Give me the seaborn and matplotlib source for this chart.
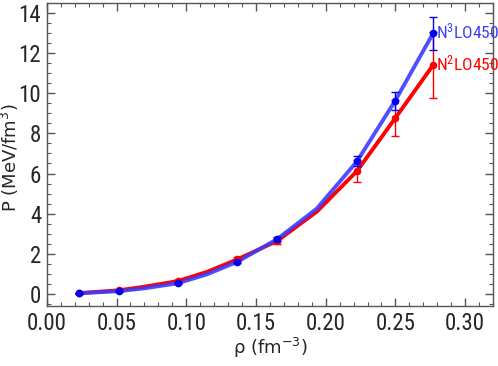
import matplotlib
matplotlib.use("Agg")
import matplotlib.pyplot as plt
from matplotlib.ticker import MultipleLocator
import seaborn as sns

# data points (markers + error bars)
rho = [0.0229, 0.0516, 0.0938, 0.1366, 0.1652, 0.2224, 0.2498, 0.2770]
p_n3lo = [0.03, 0.14, 0.53, 1.60, 2.73, 6.60, 9.62, 12.98]
err_n3lo = [0.02, 0.03, 0.05, 0.08, 0.10, 0.25, 0.45, 0.83]
p_n2lo = [0.04, 0.18, 0.64, 1.72, 2.64, 6.12, 8.75, 11.40]
err_n2lo = [0.02, 0.03, 0.06, 0.10, 0.15, 0.55, 0.90, 1.63]

# curve points
rho_line = [0.0229, 0.0516, 0.0700, 0.0938, 0.1150, 0.1366, 0.1652, 0.1936, 0.2224, 0.2498, 0.2770]
line_n3lo = [0.03, 0.14, 0.28, 0.53, 0.98, 1.60, 2.73, 4.25, 6.60, 9.62, 12.98]
line_n2lo = [0.04, 0.18, 0.36, 0.64, 1.10, 1.72, 2.64, 4.10, 6.12, 8.75, 11.40]

labels = ["N$^3$LO450", "N$^2$LO450"]
xticks = [0.00, 0.05, 0.10, 0.15, 0.20, 0.25, 0.30]
yticks = [0, 2, 4, 6, 8, 10, 12, 14]

sns.set_style("ticks")
narrow = ["Roboto Condensed", "DejaVu Sans"]
plt.rcParams['font.family'] = ['DejaVu Sans']
plt.rcParams['mathtext.rm'] = 'Roboto Condensed'
plt.rcParams['mathtext.it'] = 'Roboto Condensed'
plt.rcParams['mathtext.default'] = 'rm'

fig = plt.figure(figsize=(4.98, 3.66), dpi=100)
ax = fig.add_axes([0.094, 0.164, 0.896, 0.828])

sns.lineplot(x=rho_line, y=line_n2lo, ax=ax, color="#ff0000", lw=2.8, zorder=2)
sns.lineplot(x=rho_line, y=line_n3lo, ax=ax, color="#3c3cff", lw=2.8, alpha=0.9, zorder=3)
ax.errorbar(rho, p_n2lo, yerr=err_n2lo, fmt="o", color="#ff0000", ms=4.5,
            capsize=3, elinewidth=1.0, capthick=1.0, zorder=4)
ax.errorbar(rho, p_n3lo, yerr=err_n3lo, fmt="o", color="#0000ee", ms=4.5,
            capsize=3, elinewidth=1.0, capthick=1.0, zorder=5)

ax.text(rho[-1] + 0.002, p_n3lo[-1] + 0.1, labels[0], color="#3c3cff", fontsize=12.5,
        family=narrow, ha="left", va="center", math_fontfamily="custom")
ax.text(rho[-1] + 0.002, p_n2lo[-1] + 0.1, labels[1], color="#ff0000", fontsize=12.5,
        family=narrow, ha="left", va="center", math_fontfamily="custom")

ax.set_xlim(0.0, 0.32)
ax.set_ylim(-0.6, 14.5)
ax.set_xticks(xticks)
ax.set_yticks(yticks)
ax.set_xticklabels([f"{v:.2f}" for v in xticks], family=narrow, fontsize=16.5)
ax.set_yticklabels([str(v) for v in yticks], family=narrow, fontsize=16.5)
ax.xaxis.set_minor_locator(MultipleLocator(0.01))
ax.yaxis.set_minor_locator(MultipleLocator(0.5))
ax.tick_params(which="both", direction="in", top=True, right=True, color="#555555")
ax.tick_params(which="major", length=6, width=1, pad=4)
ax.tick_params(which="minor", length=3, width=0.8)
for s in ax.spines.values():
    s.set_color("#555555")
    s.set_linewidth(1.0)

ax.set_xlabel(r"ρ (fm$^{-3}$)", fontsize=13)
ax.set_ylabel(r"P (MeV/fm$^3$)", fontsize=13)
ax.xaxis.label.set_math_fontfamily("dejavusans")
ax.yaxis.label.set_math_fontfamily("dejavusans")
ax.xaxis.set_label_coords(0.5, -0.10)
ax.yaxis.set_label_coords(-0.058, 0.49)

fig.savefig("out.png", dpi=100)
